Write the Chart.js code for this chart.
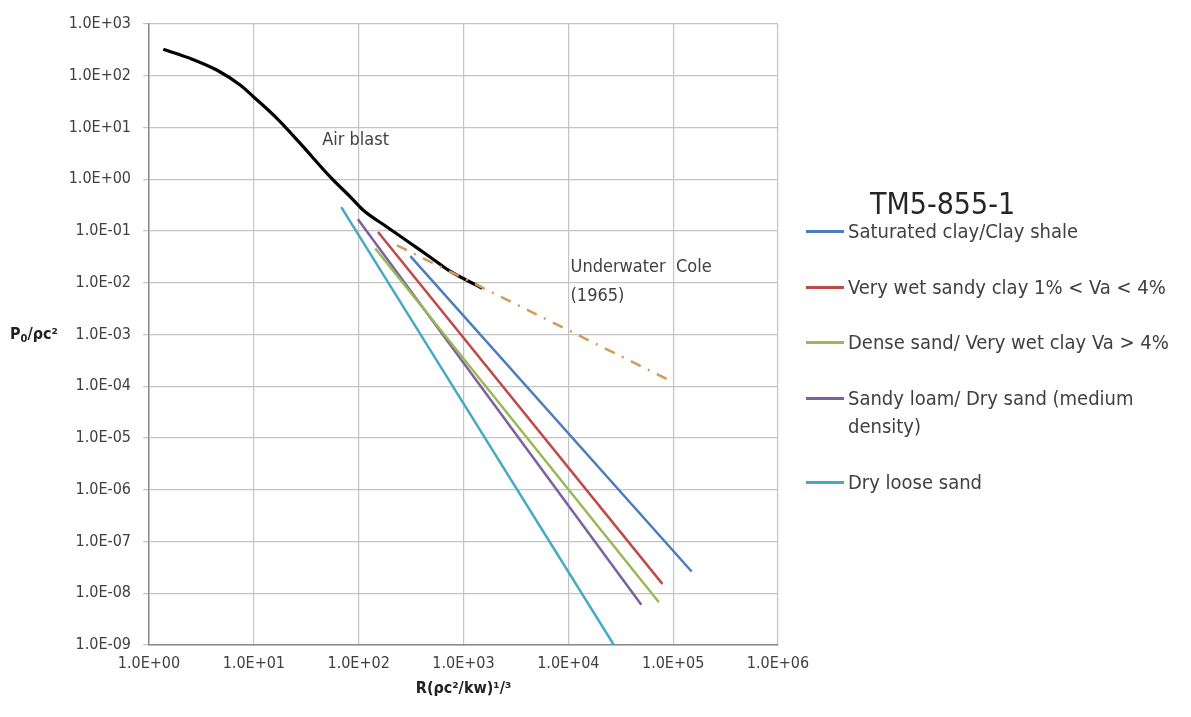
<!DOCTYPE html>
<html>
<head>
<meta charset="utf-8">
<script src="https://cdn.jsdelivr.net/npm/chart.js@4.4.1/dist/chart.umd.min.js"></script>
<style>
  html, body { margin: 0; padding: 0; background: #fff; }
  #wrap { position: relative; width: 1191px; height: 717px; font-family: 'Liberation Sans Narrow', 'Arial Narrow', 'DejaVu Sans Condensed', sans-serif; }
  #legend { position: absolute; left: 806px; top: 0; width: 385px; height: 717px; color: #404040; }
  #legTitle { position: absolute; left: 64px; top: 186px; font-size: 30px; color: #262626; }
  .item { position: absolute; left: 0; display: flex; align-items: flex-start; font-size: 20px; line-height: 28px; }
  .swatch { width: 38px; height: 3px; margin-top: 13px; margin-right: 4px; flex: none; }
  .txt { white-space: pre-line; }
</style>
</head>
<body>
<div id="wrap">
  <canvas id="c" width="1191" height="717"></canvas>
  <div id="legend"><div id="legTitle">TM5-855-1</div></div>
</div>
<script>
// ---- data ----
const xTicks = [1, 10, 100, 1e3, 1e4, 1e5, 1e6];
const xTickLabels = ['1.0E+00', '1.0E+01', '1.0E+02', '1.0E+03', '1.0E+04', '1.0E+05', '1.0E+06'];
const yTicks = [1e3, 1e2, 1e1, 1, 1e-1, 1e-2, 1e-3, 1e-4, 1e-5, 1e-6, 1e-7, 1e-8, 1e-9];
const yTickLabels = ['1.0E+03', '1.0E+02', '1.0E+01', '1.0E+00', '1.0E-01', '1.0E-02', '1.0E-03', '1.0E-04', '1.0E-05', '1.0E-06', '1.0E-07', '1.0E-08', '1.0E-09'];

const airBlastX = [1.37, 2.46, 4.43, 7.40, 9.91, 16.6, 27.7, 53.5, 83.2, 110.7, 187.5, 311, 483, 717, 1514];
const airBlastY = [324, 217, 129, 66, 39.3, 15.0, 4.92, 1.11, 0.457, 0.252, 0.1185, 0.058, 0.0311, 0.0175, 0.0078];

const coleX = [232, 1.0e5];
const coleY = [0.053, 1.2e-4];

const satClayX = [311, 1.5e5];
const satClayY = [0.0326, 2.63e-8];
const wetSandyClayX = [153, 7.89e4];
const wetSandyClayY = [0.096, 1.52e-8];
const denseSandX = [144, 7.31e4];
const denseSandY = [0.046, 6.7e-9];
const sandyLoamX = [98.4, 4.97e4];
const sandyLoamY = [0.169, 5.97e-9];
const looseSandX = [68.2, 2.72e4];
const looseSandY = [0.29, 1.0e-9];

const seriesNames = ['Saturated clay/Clay shale', 'Very wet sandy clay 1% < Va < 4%', 'Dense sand/ Very wet  clay Va > 4%', 'Sandy loam/ Dry sand (medium\ndensity)', 'Dry loose sand'];
const annotations = [
  { text: 'Air blast', x: 44.9, y: 5.7 },
  { text: 'Underwater  Cole', x: 10500, y: 0.020 },
  { text: '(1965)', x: 10500, y: 0.0055 }
];

// ---- styles ----
const FONT = "'Liberation Sans Narrow', 'Arial Narrow', 'DejaVu Sans Condensed', sans-serif";
const soilColors = ['#4A7EBB', '#BE4B48', '#98B954', '#7D60A0', '#46AAC5'];
const legendTops = [217, 273, 328, 384, 468];

const pts = (xs, ys) => xs.map((x, i) => ({ x: x, y: ys[i] }));

const soil = [
  [satClayX, satClayY], [wetSandyClayX, wetSandyClayY], [denseSandX, denseSandY],
  [sandyLoamX, sandyLoamY], [looseSandX, looseSandY]
];

const datasets = soil.map((s, i) => ({
  label: seriesNames[i],
  data: pts(s[0], s[1]),
  borderColor: soilColors[i],
  borderWidth: 2.5,
  showLine: true, pointRadius: 0, fill: false
}));
datasets.push({
  label: 'Underwater Cole (1965)',
  data: pts(coleX, coleY),
  borderColor: '#D39B5B', borderWidth: 2.5, borderDash: [11, 8, 2, 8],
  showLine: true, pointRadius: 0, fill: false
});
datasets.push({
  label: 'Air blast',
  data: pts(airBlastX, airBlastY),
  borderColor: '#000000', borderWidth: 3.2, tension: 0.4, cubicInterpolationMode: 'monotone',
  showLine: true, pointRadius: 0, fill: false
});

const textPlugin = {
  id: 'texts',
  afterDatasetsDraw(chart) {
    const ctx = chart.ctx, xs = chart.scales.x, ys = chart.scales.y;
    ctx.save();
    ctx.fillStyle = '#404040';
    ctx.font = '18px ' + FONT;
    ctx.textBaseline = 'middle';
    ctx.textAlign = 'left';
    annotations.forEach(a => ctx.fillText(a.text, xs.getPixelForValue(a.x), ys.getPixelForValue(a.y)));
    // horizontal y-axis title P0/ρc²
    const yy = ys.getPixelForValue(1e-3);
    ctx.fillStyle = '#222';
    ctx.font = 'bold 16px ' + FONT;
    let x = 10;
    ctx.fillText('P', x, yy); x += ctx.measureText('P').width;
    ctx.font = 'bold 11px ' + FONT;
    ctx.fillText('0', x, yy + 5); x += ctx.measureText('0').width;
    ctx.font = 'bold 16px ' + FONT;
    ctx.fillText('/ρc²', x, yy);
    ctx.restore();
  }
};

new Chart(document.getElementById('c'), {
  type: 'scatter',
  data: { datasets: datasets },
  plugins: [textPlugin],
  options: {
    responsive: false, animation: false, devicePixelRatio: 1,
    layout: { padding: { top: 24, right: 413, left: 0, bottom: 0 } },
    plugins: { legend: { display: false }, tooltip: { enabled: false } },
    scales: {
      x: {
        type: 'logarithmic', min: 1, max: 1e6,
        afterBuildTicks: s => { s.ticks = xTicks.map(v => ({ value: v })); },
        afterFit: s => { s.height = 72; },
        ticks: {
          autoSkip: false, maxRotation: 0, padding: 9, color: '#404040',
          font: { family: FONT, size: 16 },
          callback: (v) => xTickLabels[xTicks.indexOf(v)]
        },
        grid: { color: '#c4c4c4', lineWidth: 1.2, tickLength: 0 },
        border: { color: '#8a8a8a', width: 1.5 },
        title: { display: true, text: 'R(ρc²/kw)¹/³', color: '#222', font: { family: FONT, size: 16, weight: 'bold' }, padding: { top: 0, bottom: 19 } }
      },
      y: {
        type: 'logarithmic', min: 1e-9, max: 1e3,
        afterBuildTicks: s => { s.ticks = yTicks.map(v => ({ value: v })); },
        afterFit: s => { s.width = 149; },
        ticks: {
          autoSkip: false, padding: 12, color: '#404040',
          font: { family: FONT, size: 16 },
          callback: (v) => yTickLabels[yTicks.indexOf(v)]
        },
        grid: { color: '#c4c4c4', lineWidth: 1.2, tickLength: 6 },
        border: { color: '#8a8a8a', width: 1.5 }
      }
    }
  }
});

// HTML legend built from the series arrays
const leg = document.getElementById('legend');
seriesNames.forEach((name, i) => {
  const d = document.createElement('div');
  d.className = 'item';
  d.style.top = legendTops[i] + 'px';
  d.innerHTML = '<span class="swatch" style="background:' + soilColors[i] + '"></span><span class="txt"></span>';
  d.querySelector('.txt').textContent = name;
  leg.appendChild(d);
});
</script>
</body>
</html>
